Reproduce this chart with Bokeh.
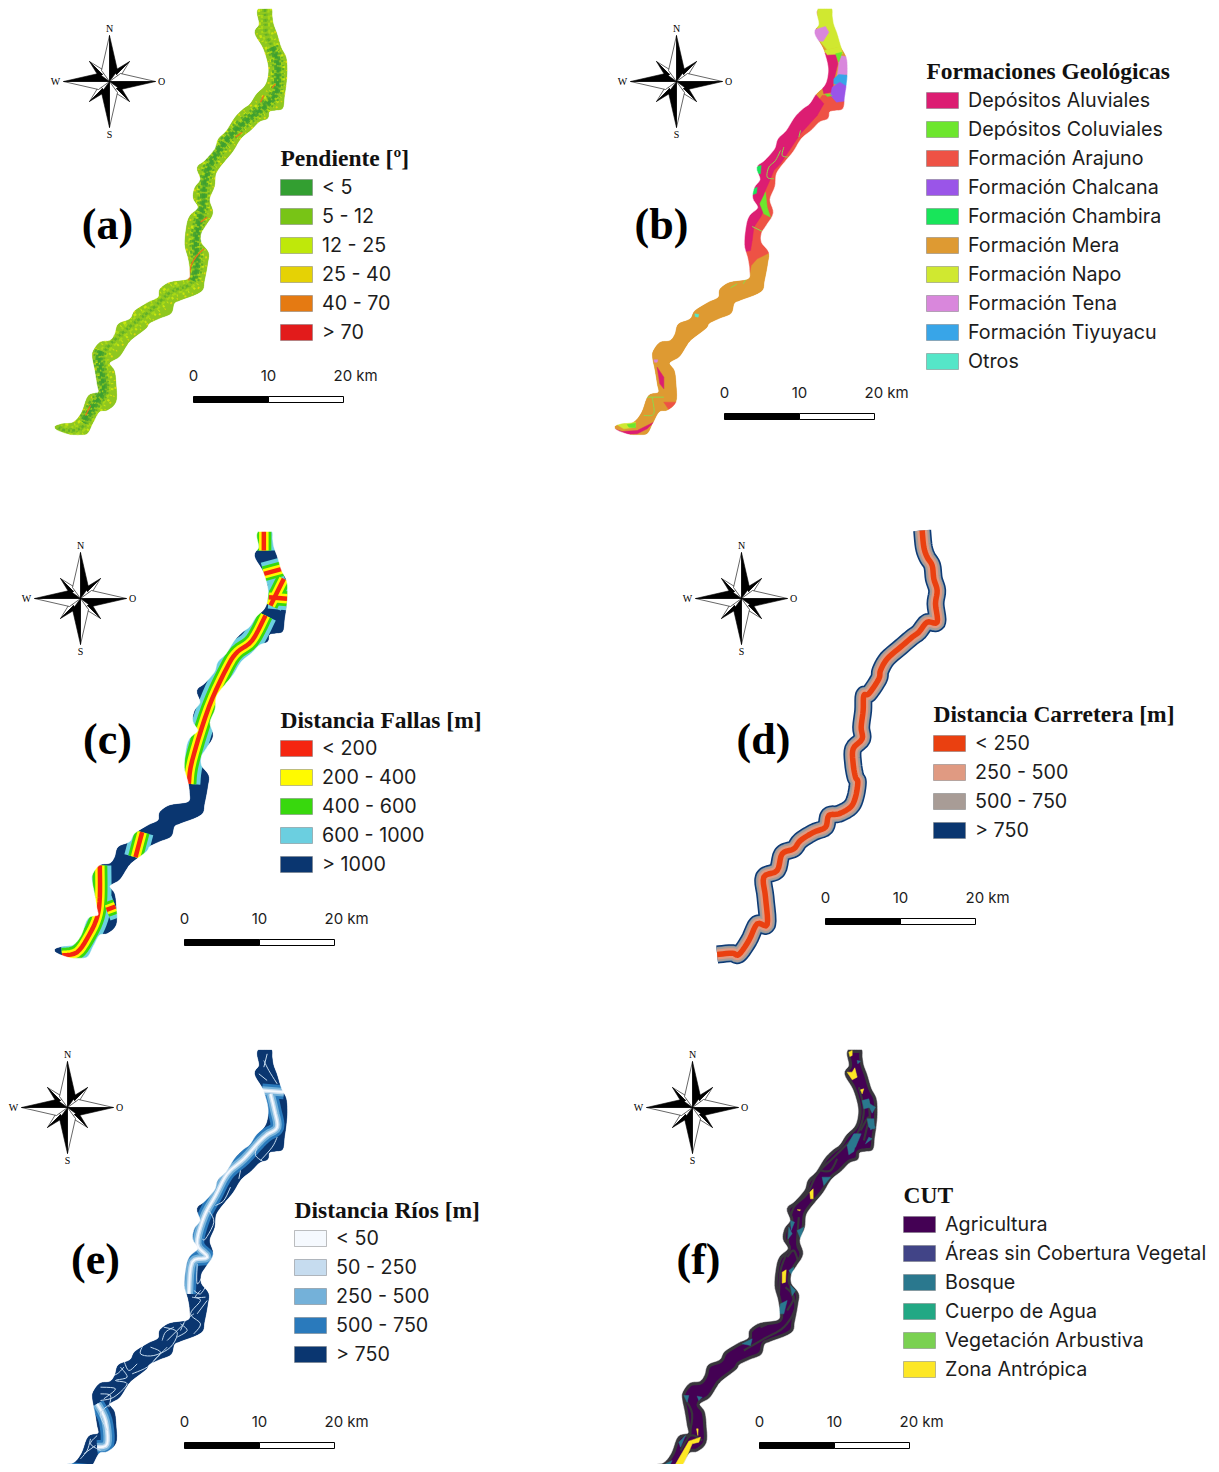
from bokeh.plotting import figure
from bokeh.models import Range1d
from bokeh.embed import file_html
from bokeh.resources import INLINE
from bokeh.core.properties import value
import math

# ---------- legends ----------
slope_title = "Pendiente [º]"
slope_labels = ["< 5", "5 - 12", "12 - 25", "25 - 40", "40 - 70", "> 70"]
slope_colors = ["#339f31", "#78c416", "#bfe80a", "#e5d205", "#e57a12", "#e21b1b"]
geo_title = "Formaciones Geológicas"
geo_labels = ["Depósitos Aluviales", "Depósitos Coluviales", "Formación Arajuno", "Formación Chalcana",
              "Formación Chambira", "Formación Mera", "Formación Napo", "Formación Tena",
              "Formación Tiyuyacu", "Otros"]
geo_colors = ["#dc1d72", "#6de62d", "#ee5245", "#9a55e8", "#18e55a", "#de9a32", "#d0e830", "#d987dc", "#38a5e8", "#55e6c8"]
fault_title = "Distancia Fallas [m]"
fault_labels = ["< 200", "200 - 400", "400 - 600", "600 - 1000", "> 1000"]
fault_colors = ["#f52510", "#fffa00", "#38d80d", "#6bcfe0", "#0a3670"]
road_title = "Distancia Carretera [m]"
road_labels = ["< 250", "250 - 500", "500 - 750", "> 750"]
road_colors = ["#ea4010", "#e09a82", "#a89c96", "#0a3670"]
river_title = "Distancia Ríos [m]"
river_labels = ["< 50", "50 - 250", "250 - 500", "500 - 750", "> 750"]
river_colors = ["#f5f9fe", "#c6dcef", "#74b1d9", "#2a7abc", "#0a3670"]
cut_title = "CUT"
cut_labels = ["Agricultura", "Áreas sin Cobertura Vegetal", "Bosque", "Cuerpo de Agua", "Vegetación Arbustiva", "Zona Antrópica"]
cut_colors = ["#440154", "#414487", "#2a788e", "#22a884", "#7ad151", "#fde725"]
scale_ticks = ["0", "10", "20 km"]

# ---------- corridor (map units of panel a) ----------
corridor_x = [810,813,817,828,840,855,858,855,850,845,825,805,800,775,750,720,695,670,645,640,625,635,615,600,600,622,620,610,600,540,520,510,475,445,435,390,375,355,325,340,345,345,320,295,275,255,210,165,
              185,220,245,265,295,292,285,278,280,300,330,345,355,390,405,445,475,480,510,565,570,565,555,560,570,595,580,585,602,592,615,645,655,680,705,730,750,770,795,805,805,790,765,778,772,780]
corridor_y = [24,47,72,102,142,172,212,252,287,322,327,332,352,362,387,412,452,482,517,557,597,637,672,697,727,757,787,840,872,897,907,937,952,967,982,1017,1037,1067,1087,1112,1152,1202,1227,1232,1267,1300,1300,1282,
              1272,1267,1237,1187,1177,1150,1107,1072,1052,1027,1022,1002,972,957,932,907,892,867,847,837,807,772,732,677,647,622,592,562,537,502,482,447,417,392,352,327,312,282,257,227,192,142,97,72,37,24]
route_x = [793,795,797,815,830,832,825,790,750,710,670,630,612,608,595,585,590,570,510,450,380,310,310,317,290,245,200,170]
route_y = [25,60,100,140,180,230,280,320,350,385,430,490,550,610,670,730,790,850,875,930,985,1055,1110,1170,1215,1280,1290,1280]

# slope map features
slope_band = [(-6, "#c8e60f", "2 5 1 4", 2.4), (6, "#c8e60f", "3 3 1 6", 2.4), (-3.5, "#a8d816", "4 3", 2.2), (3.5, "#a8d816", "2 4 3 2", 2.2),
              (-9, "#dcd80c", "1 6 2 7", 1.8), (9, "#dcd80c", "2 7 1 5", 1.8), (0, "#62b028", "3 2 2 3", 2.6), (-1.8, "#78bd22", "2 3", 1.5), (1.8, "#78bd22", "3 2 1 4", 1.5)]
slope_green = [(-2, "#4aa52e", "4 2 3 2", 3.0), (2.2, "#4aa52e", "3 2 5 3", 3.0), (0, "#3ea030", "5 2", 3.0), (-5, "#5cae2a", "2 3 1 2", 2.2), (5, "#5cae2a", "3 2 2 4", 2.2)]
slope_hot = [[(825,250),(815,262)], [(790,285),(780,305)], [(610,745),(590,765),(572,795),(565,840)], [(620,650),(600,665)], [(270,1215),(255,1245)], [(725,395),(705,410)]]

# geology patches (crop b coordinates)
g_napo = [[(650,10),(700,10),(700,60),(730,110),(735,135),(680,148),(655,118),(650,80)], [(672,150),(722,137),(726,160),(680,163)], [(45,1270),(105,1265),(105,1280),(70,1285)]]
g_tena = [[(635,90),(675,78),(685,95),(668,122),(650,122)], [(715,165),(750,170),(750,220),(710,228),(715,190)], [(160,1078),(172,1078),(170,1085),(162,1085)]]
g_tiyu = [[(700,235),(715,222),(750,225),(750,262),(700,250)]]
g_chal = [[(695,260),(718,245),(750,265),(745,300),(708,305),(690,285)]]
g_araj = [[(665,285),(690,285),(745,300),(745,330),(695,340),(690,365),(660,378),(640,400),(615,435),(585,475),(550,520),(535,545),(535,560),(520,600),(530,640),(520,680),(500,700),(500,730),(520,750),(470,775),(452,795),(445,830),(425,830),(420,760),(435,700),(445,650),(480,560),(520,490),(580,410),(625,345)],
          [(190,1205),(230,1205),(205,1228)]]
g_aluv = [[(640,15),(665,15),(668,45),(650,45)], [(660,160),(705,155),(712,190),(700,240),(695,275),(670,280),(650,200)],
          [(640,275),(670,310),(650,345),(600,400),(580,430),(540,490),(520,510),(510,535),(490,580),(495,620),(480,650),(460,680),(455,720),(450,750),(425,755),(420,700),(430,650),(450,620),(445,575),(455,540),(460,495),(495,455),(520,405),(555,365),(600,325)],
          [(170,1100),(190,1130),(190,1165),(178,1150)], [(40,1285),(65,1293),(110,1290),(160,1265),(140,1285),(110,1300),(65,1302)]]
g_colu = [[(495,575),(500,620),(510,650),(490,640),(478,610)], [(705,160),(725,155),(715,185)], [(80,1272),(105,1268),(105,1282),(85,1280)], [(675,280),(695,285),(680,288)]]
g_colu_lines = [[(600,390),(595,410)], [(540,450),(525,480),(505,500),(500,530),(520,535)], [(550,440),(545,465),(565,470)], [(455,678),(490,695)], [(440,830),(428,850)], [(390,862),(410,850)], [(140,1190),(190,1190)], [(130,1245),(160,1240),(155,1190)]]
g_cham = [[(460,500),(482,495),(480,520),(460,518)], [(450,570),(470,560),(468,578),(450,585)]]
g_otro = [[(283,940),(295,942),(293,950),(284,948)]]

# fault traces (crop c coordinates)
fault_traces = [[(185,1305),(230,1295),(265,1245),(290,1190),(298,1130),(298,1035)], [(405,1010),(425,935)],
                [(565,790),(575,720),(625,560),(680,440),(710,395),(755,360),(795,285)],
                [(810,255),(850,175)], [(805,230),(860,235)], [(790,160),(845,145)], [(790,25),(790,90)], [(318,1168),(345,1158)]]

# road (crop d coordinates)
road_x = [755,760,770,785,790,800,795,800,770,745,725,690,650,630,625,595,580,578,572,575,548,548,555,562,555,540,505,475,465,430,390,370,335,320,280,285,290,260,235,205,185,140]
road_y = [30,80,110,135,175,210,250,305,305,335,350,380,415,450,475,520,525,570,620,655,685,730,770,785,830,860,880,885,920,935,960,985,1000,1050,1070,1130,1212,1210,1260,1302,1298,1302]

# rivers (crop e coordinates)
river_main = [[(785,180),(850,185)], [(810,190),(822,240),(830,290),(800,312),(775,335),(730,385),(680,430),(645,495),(610,560),(590,640),(620,680),(575,695),(565,790)],
              [(290,1120),(315,1170),(320,1240),(290,1250)], [(170,1312),(265,1322)]]
river_lines = [[(790,90),(805,120),(830,160)], [(775,130),(800,150)], [(830,320),(815,350),(780,390)], [(770,350),(765,375),(790,395)],
               [(720,420),(715,445)], [(690,470),(670,510),(645,525)], [(625,540),(640,575),(615,625),(605,625)], [(590,700),(590,760),(610,730)],
               [(575,800),(600,810),(570,850),(600,880),(580,910)], [(620,810),(590,850)], [(490,890),(530,905),(510,950),(460,975),(420,970),(430,940)],
               [(550,880),(500,930)], [(500,950),(470,980),(440,1010),(395,1030)], [(360,1010),(380,1040),(345,1050),(380,1060),(340,1100),(300,1110)],
               [(300,1070),(345,1075),(310,1105)], [(330,1120),(300,1150),(320,1200)], [(290,1215),(270,1240),(300,1260)], [(210,1300),(240,1310)],
               [(600,780),(585,800),(615,800)], [(540,880),(560,900),(530,920)], [(250,1270),(285,1245)], [(800,70),(790,110)],
               [(450,950),(480,965),(460,990)], [(520,890),(495,905),(485,930)], [(410,1000),(385,1020),(370,990)], [(580,850),(555,870),(540,900)],
               [(620,760),(600,790),(580,780)], [(320,1040),(350,1030),(370,1010)], [(270,1225),(260,1260),(240,1285)], [(300,1090),(330,1095),(325,1130)]]

# land cover patches (crop f coordinates)
c_yellow = [[(685,65),(695,60),(695,75),(688,78)], [(680,125),(695,125),(703,112),(710,140),(695,148)], [(720,178),(730,175),(725,190)],
            [(568,485),(578,475),(578,505),(570,505)], [(530,538),(540,538),(538,541)], [(485,725),(497,718),(495,755),(485,758)],
            [(160,1310),(205,1232),(240,1220),(235,1235),(215,1240),(190,1300),(175,1322)], [(228,1195),(233,1195),(232,1215)]]
c_teal = [[(700,310),(722,310),(705,350),(680,345)], [(740,265),(760,265),(762,295),(745,290)], [(725,210),(745,205),(750,230),(730,235)], [(605,440),(630,440),(610,465)],
          [(480,820),(500,810),(490,850),(475,850)], [(365,940),(395,925),(390,945)], [(745,320),(755,325),(735,340)], [(510,570),(522,575),(512,600)],
          [(190,1095),(205,1095),(200,1115)], [(230,1097),(245,1100),(235,1110)], [(175,1235),(195,1215),(180,1250)], [(135,1300),(155,1290),(145,1310)], [(505,720),(520,710),(515,735)],
          [(710,90),(720,92),(712,100)], [(510,765),(525,780),(515,795)],
          [(680,345),(710,325),(700,363),(685,373)], [(740,215),(765,230),(755,248)], [(745,270),(765,290),(750,298)], [(530,600),(550,590),(540,625)], [(505,590),(515,610),(503,625)]]
c_dark = [[(715,170),(730,240),(715,300),(690,330),(640,380),(590,430),(560,490),(520,530),(505,590),(500,660),(480,720),(475,800),(470,860),(420,890)],
          [(535,560),(530,640),(540,680),(510,770),(525,830),(490,890),(430,925),(370,960)], [(190,1100),(215,1150),(205,1220)], [(745,210),(750,290)],
          [(720,300),(745,260),(730,330)], [(600,420),(630,420),(650,385)], [(500,680),(520,660),(535,700)], [(495,770),(520,800),(500,840)], [(180,1260),(210,1215),(245,1230)]]

# ---------- layout ----------
corridor_shift = {"a": (0, 0), "b": (560, 0), "c": (0, 523), "d": (658, 524), "e": (0, 1041), "f": (590, 1041)}
crop = {"a": (0, 0), "b": (600, 0), "c": (0, 520), "d": (670, 520), "e": (0, 1030), "f": (620, 1030)}
compass_at = {"a": (109, 81), "b": (676, 81), "c": (80, 598), "d": (741, 598), "e": (67, 1107), "f": (692, 1107)}
scale_at = {"a": (193, 396), "b": (724, 413), "c": (184, 939), "d": (825, 918), "e": (184, 1442), "f": (759, 1442)}
tag_at = {"a": (107, 224), "b": (661, 224), "c": (107, 739), "d": (763, 739), "e": (95, 1259), "f": (698, 1259)}
legend_at = {"a": (280, 157, 187), "b": (926, 70, 100), "c": (280, 719, 748), "d": (933, 713, 743), "e": (294, 1209, 1238), "f": (903, 1194, 1224)}
legend_text = {"a": (slope_title, slope_labels, slope_colors), "b": (geo_title, geo_labels, geo_colors), "c": (fault_title, fault_labels, fault_colors),
               "d": (road_title, road_labels, road_colors), "e": (river_title, river_labels, river_colors), "f": (cut_title, cut_labels, cut_colors)}

p = figure(width=1211, height=1464, x_range=Range1d(0, 1211), y_range=Range1d(1464, 0),
           output_backend="svg", toolbar_location=None, min_border=0)
p.xaxis.visible = False
p.yaxis.visible = False
p.xgrid.visible = False
p.ygrid.visible = False
p.outline_line_color = None
p.background_fill_color = "white"

def spline(px, py, closed=False, sub=5):
    n = len(px)
    ox, oy = [], []
    segs = n if closed else n - 1
    for i in range(segs):
        if closed:
            idx = [(i - 1) % n, i, (i + 1) % n, (i + 2) % n]
        else:
            idx = [max(i - 1, 0), i, i + 1, min(i + 2, n - 1)]
        for s in range(sub):
            t = s / sub
            w = [-0.5*t**3 + t**2 - 0.5*t, 1.5*t**3 - 2.5*t**2 + 1, -1.5*t**3 + 2*t**2 + 0.5*t, 0.5*t**3 - 0.5*t**2]
            ox.append(sum(w[k] * px[idx[k]] for k in range(4)))
            oy.append(sum(w[k] * py[idx[k]] for k in range(4)))
    if not closed:
        ox.append(px[-1]); oy.append(py[-1])
    return ox, oy

def offset(px, py, d):
    ox, oy = [], []
    n = len(px)
    for i in range(n):
        a, b = max(i - 1, 0), min(i + 1, n - 1)
        tx, ty = px[b] - px[a], py[b] - py[a]
        L = math.hypot(tx, ty) or 1
        ox.append(px[i] - ty / L * d)
        oy.append(py[i] + tx / L * d)
    return ox, oy

smooth_x, smooth_y = spline(corridor_x, corridor_y, closed=True)
smooth_x, smooth_y = offset(smooth_x, smooth_y, -3.5)

def cor(panel):
    dx, dy = corridor_shift[panel]
    return [dx + x / 3 for x in smooth_x], [dy + min(max(y, 24), 1304) / 3 for y in smooth_y]

def in_crop(panel, pts):
    ox, oy = crop[panel]
    return [ox + x / 3 for x, y in pts], [oy + y / 3 for x, y in pts]

def polys(panel, groups, color):
    xs, ys = [], []
    for g in groups:
        a, b = in_crop(panel, g)
        xs.append(a); ys.append(b)
    p.patches(xs, ys, fill_color=color, line_color=color, line_width=0.5)

def lines(panel, groups, color, width, alpha=1.0):
    xs, ys = [], []
    for g in groups:
        a, b = in_crop(panel, g)
        if len(a) > 2:
            a, b = spline(a, b)
        xs.append(a); ys.append(b)
    p.multi_line(xs, ys, line_color=color, line_width=width, line_join="round", line_cap="butt", line_alpha=alpha)

def mask(panel):
    xs, ys = cor(panel)
    pad = 16
    x0, x1, y0, y1 = min(xs) - pad, max(xs) + pad, min(ys) - pad, max(ys) + pad
    p.multi_polygons([[[[x0, x1, x1, x0], xs]]], [[[[y0, y0, y1, y1], ys]]], fill_color="white", line_color="white", line_width=0.5)

# (a) slope
xs, ys = cor("a")
p.patch(xs, ys, fill_color="#8fc71f", line_color=None)
rx, ry = spline([x / 3 for x in route_x], [y / 3 for y in route_y])
for d, c, dash, w in slope_band:
    ox, oy = offset(rx, ry, d)
    p.line(ox, oy, line_color=c, line_dash=dash, line_width=w)
for d, c, dash, w in slope_green:
    ox, oy = offset(rx[15:85], ry[15:85], d)
    p.line(ox, oy, line_color=c, line_dash=dash, line_width=w)
    ox, oy = offset(rx[105:125], ry[105:125], d + 3)
    p.line(ox, oy, line_color=c, line_dash=dash, line_width=w)
lines("a", slope_hot, "#e5741a", 1.3)
mask("a")

# (b) geology
xs, ys = cor("b")
p.patch(xs, ys, fill_color=geo_colors[5], line_color=None)
polys("b", g_araj, geo_colors[2])
polys("b", g_aluv, geo_colors[0])
polys("b", g_napo, geo_colors[6])
polys("b", g_tena, geo_colors[7])
polys("b", g_tiyu, geo_colors[8])
polys("b", g_chal, geo_colors[3])
polys("b", g_colu, geo_colors[1])
polys("b", g_cham, geo_colors[4])
polys("b", g_otro, geo_colors[9])
lines("b", g_colu_lines, "#8fd84a", 1.0)
mask("b")

# (c) faults
xs, ys = cor("c")
p.patch(xs, ys, fill_color=fault_colors[4], line_color=None)
lines("c", fault_traces, fault_colors[3], 23)
lines("c", fault_traces, fault_colors[2], 15)
lines("c", fault_traces, fault_colors[1], 9.5)
lines("c", fault_traces, fault_colors[0], 4.5)
mask("c")

# (d) road
road_pts = list(zip(road_x, road_y))
lines("d", [road_pts], "#0e3a74", 18)
lines("d", [road_pts], "#5f86a8", 15)
lines("d", [road_pts], road_colors[2], 14)
lines("d", [road_pts], road_colors[1], 10)
lines("d", [road_pts], road_colors[0], 5.5)

# (e) rivers
xs, ys = cor("e")
p.patch(xs, ys, fill_color=river_colors[4], line_color=None)
lines("e", river_main, river_colors[3], 14)
lines("e", river_main, river_colors[2], 8.5)
lines("e", river_main, river_colors[1], 4.5)
lines("e", river_main, river_colors[0], 1.8)
lines("e", river_lines, river_colors[1], 1.0)
mask("e")

# (f) land cover
xs, ys = cor("f")
p.patch(xs, ys, fill_color=cut_colors[0], line_color="#38363c", line_width=7)
lines("f", c_dark, "#38363c", 2.2)
polys("f", c_teal, cut_colors[2])
polys("f", c_yellow, cut_colors[5])
mask("f")

# compass, scale bars, tags, legends
ink = "#000000"
def rot(pts, k):
    for _ in range(k):
        pts = [(-y, x) for x, y in pts]
    return pts

for panel, (cx, cy) in compass_at.items():
    for k in range(4):
        white = rot([(20, -20), (10.5, -4.5), (7, -7)], k)
        black = rot([(20, -20), (4.5, -10.5), (7, -7)], k)
        p.patch([cx + a for a, b in white], [cy + b for a, b in white], fill_color="white", line_color=ink, line_width=0.6)
        p.patch([cx + a for a, b in black], [cy + b for a, b in black], fill_color=ink, line_color=ink, line_width=0.6)
    for k in range(4):
        white = rot([(0, -46), (-8, -11), (0, 0)], k)
        black = rot([(0, -46), (8, -11), (0, 0)], k)
        p.patch([cx + a for a, b in white], [cy + b for a, b in white], fill_color="white", line_color=ink, line_width=0.6)
        p.patch([cx + a for a, b in black], [cy + b for a, b in black], fill_color=ink, line_color=ink, line_width=0.6)
    p.text([cx, cx, cx - 54, cx + 52], [cy - 53, cy + 53, cy, cy], text=["N", "S", "W", "O"],
           text_font=value("Liberation Serif"), text_font_size="10px", text_align="center", text_baseline="middle", text_color=ink)

for panel, (bx, by) in scale_at.items():
    p.quad(left=[bx], right=[bx + 75], top=[by], bottom=[by + 6], fill_color="black", line_color="black", line_width=1)
    p.quad(left=[bx + 75], right=[bx + 150], top=[by], bottom=[by + 6], fill_color="white", line_color="black", line_width=1)
    p.text([bx, bx + 75], [by - 21, by - 21], text=scale_ticks[:2], text_font=value("Inter"), text_font_size="15px",
           text_align="center", text_baseline="middle", text_color="#1c1c1c")
    p.text([bx + 140], [by - 21], text=scale_ticks[2:], text_font=value("Inter"), text_font_size="15px",
           text_align="left", text_baseline="middle", text_color="#1c1c1c")

for panel, (tx, ty) in tag_at.items():
    p.text([tx], [ty], text=["(%s)" % panel], text_font=value("Liberation Serif"), text_font_style="bold", text_font_size="44px",
           text_align="center", text_baseline="middle", text_color="black")

for panel, (lx, ty, ry0) in legend_at.items():
    title, labels, colors = legend_text[panel]
    p.text([lx], [ty], text=[title], text_font=value("Liberation Serif"), text_font_style="bold", text_font_size="23.5px",
           text_align="left", text_baseline="middle", text_color="#111111")
    rows = [ry0 + 29 * i for i in range(len(labels))]
    p.quad(left=[lx] * len(rows), right=[lx + 32] * len(rows), top=[r - 8 for r in rows], bottom=[r + 8 for r in rows],
           fill_color=colors, line_color="#77797a", line_width=0.8, line_alpha=0.6)
    p.text([lx + 41.5] * len(rows), [r - 1 for r in rows], text=labels, text_font=value("Inter"), text_font_size="19.7px",
           text_align="left", text_baseline="middle", text_color="#1c1c1c")

open("out.html", "w").write(file_html(p, INLINE))
